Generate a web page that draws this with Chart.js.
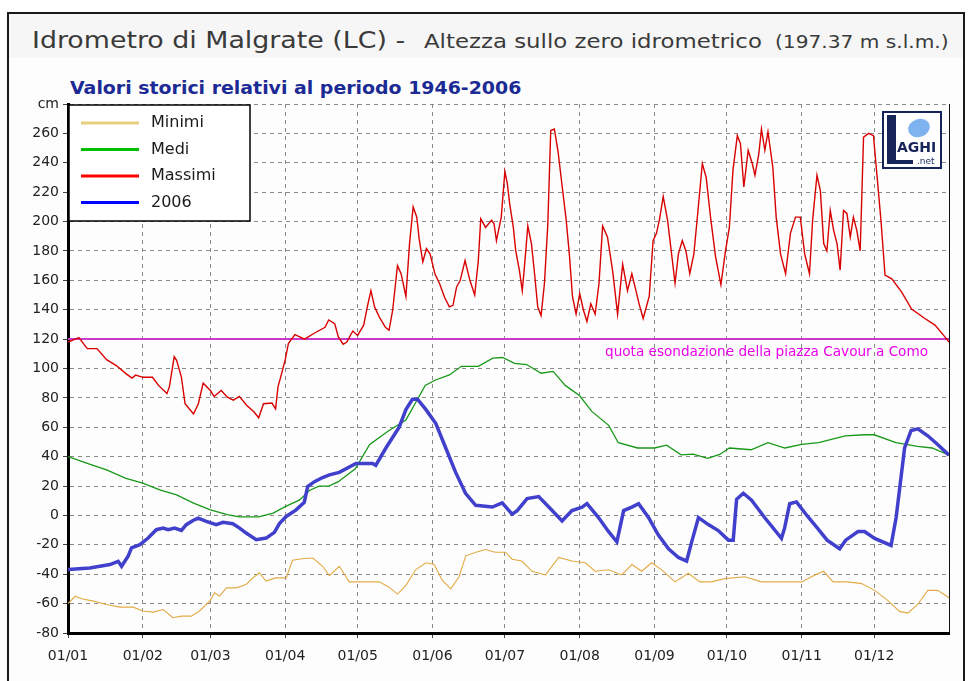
<!DOCTYPE html>
<html>
<head>
<meta charset="utf-8">
<script src="https://cdn.jsdelivr.net/npm/chart.js@4.4.1/dist/chart.umd.min.js"></script>
<style>
  html, body { margin: 0; padding: 0; background: #fff; }
  #wrap { position: relative; width: 971px; height: 681px; overflow: hidden; background: #fff; }
  #frame { position: absolute; left: 7px; top: 12px; width: 958px; height: 700px; border: 2px solid #1a1a1a; box-sizing: border-box; background: #fdfdfd; }
  #band { position: absolute; left: 9px; top: 14px; width: 954px; height: 44px; background: #f6f6f6; }
  .txt { position: absolute; font-family: "DejaVu Sans", sans-serif; white-space: nowrap; line-height: normal; transform-origin: 0 0; }
  .tt { color: #3a3a3a; }
  #t1 { left: 32px; top: 27px; font-size: 23px; }
  #t2 { left: 424px; top: 29px; font-size: 20px; }
  #t3 { left: 775px; top: 32px; font-size: 17px; }
  #sub { left: 70px; top: 78px; font-size: 17px; font-weight: bold; color: #1b2a94; }
  canvas { position: absolute; left: 0; top: 0; }
</style>
</head>
<body>
<div id="wrap">
  <div id="frame"></div>
  <div id="band"></div>
  <div id="t1" class="txt tt" data-w="373">Idrometro di Malgrate (LC) -</div>
  <div id="t2" class="txt tt" data-w="338">Altezza sullo zero idrometrico</div>
  <div id="t3" class="txt tt" data-w="173">(197.37 m s.l.m.)</div>
  <div id="sub" class="txt" data-w="452">Valori storici relativi al periodo 1946-2006</div>
  <canvas id="chart" width="971" height="681"></canvas>
</div>
<script>
// giorno dell'anno (0 = 1 gennaio) e valori in cm
const monthDays = [0, 31, 59, 90, 120, 151, 181, 212, 243, 273, 304, 334];
const monthLabels = ['01/01', '01/02', '01/03', '01/04', '01/05', '01/06', '01/07', '01/08', '01/09', '01/10', '01/11', '01/12'];

const maxDays = [0, 4.5, 8, 12, 16, 20, 24, 26.5, 28, 31, 35, 37.5, 41, 42, 44, 45, 47, 48.5, 52, 54, 56, 59, 60.5, 63.5, 66, 68.5, 71, 74, 77, 79, 81, 84.5, 86, 87, 88.5, 90,
  91.3, 94, 96, 98, 102, 106.5, 108, 110.5, 112, 114, 115.5, 118, 120, 122.5, 124, 125.5, 127, 129, 131.5, 133, 134.5, 136.5, 138, 140, 141.5, 143, 144.5, 145.5, 147, 148.5, 150,
  152, 154, 156, 158, 159.5, 161, 162.5, 164.5, 166.5, 168.5, 170, 171, 173, 175.5, 176.5, 177.5, 179.5, 181, 182, 183, 184.5, 185.5, 187, 188.2, 189.1, 190.5, 192, 193.3,
  194.6, 196, 197.4, 198.8, 200, 201.5, 203, 204.3, 206.4, 207.7, 209, 210.5, 212, 213.5, 215, 216.6, 218.4, 220, 221.5, 223.5, 225.6, 227.7, 229.8, 231.8, 233.6, 235.3,
  236.6, 238.3, 240.8, 242.4, 243.8, 245, 246.6, 248.4, 249.7, 251.5, 252.9, 254.5, 256, 257.6, 259.3, 261, 262.8, 264.4, 266.2, 268.3, 270.5, 272.4, 274, 275.5, 277.3,
  278.6, 280, 281.8, 283.5, 284.6, 286.2, 287.3, 288.7, 290, 292, 293.4, 295.2, 297.3, 299.3, 301.4, 303.4, 305.2, 307.2, 308.5, 310.3, 311.7, 313.1, 314.4, 315.8, 317.2,
  318.6, 319.9, 321.3, 322.7, 324.1, 325.4, 326.8, 328.2, 329.6, 331.7, 333.7, 335.1, 336.8, 338.5, 341.3, 345.4, 349.5, 355, 359.2, 363.3, 365];
const maxVals = [118, 121, 113.5, 113.5, 106, 102, 96.5, 93.5, 95.5, 94, 94, 88.5, 83, 87.5, 108, 105.5, 94, 76, 69, 76, 90, 85, 81, 85, 80.5, 78.5, 81, 75, 70.5, 66.5, 76, 76.5, 72.5, 87.5, 96.5, 106,
  117, 123, 121.5, 120, 124, 128, 133, 130.5, 121.5, 116.5, 118, 125.5, 122.5, 129.5, 142, 153, 142, 135, 128, 126, 139.5, 170, 164.5, 149, 185, 210, 203, 188, 172.5, 181.5, 178,
  164.5, 157.5, 148.5, 142, 143, 155.5, 160, 173.5, 160, 150, 173.5, 202, 196, 201, 198.5, 187, 203, 234, 226, 212, 196, 180, 167, 153, 169, 197, 185, 164.5,
  142, 136, 158, 198.5, 262, 263, 248, 230, 201, 178, 149, 137, 151, 140, 132, 144, 137, 158, 197, 189.5, 167, 137, 171, 153, 164.5, 153,
  144, 134, 149, 187, 192, 201, 217, 201, 183, 158, 178, 187, 180, 164.5, 178, 207.5, 239.5, 230, 203, 176, 157, 180, 196, 235, 258.5,
  253, 223.5, 248.5, 239.5, 231.5, 246, 263, 248.5, 261, 237, 203, 178, 164.5, 192, 203, 203, 178, 164.5, 201, 231.5, 221, 185, 180, 207.5, 194,
  185, 167, 207.5, 205.5, 189.5, 203, 194, 180, 257.5, 260, 258.5, 232.5, 201, 163.5, 161, 152, 140.5, 134, 129.5, 121.5, 118];

const medDays = [0, 8, 16, 24, 31, 38, 45, 52, 59, 66, 71, 79, 85, 90, 96, 100, 104, 108, 112, 119, 125, 133, 140, 144, 148, 152, 158, 163, 170, 176, 180, 185, 190, 196,
  201, 206, 212, 217, 224, 228, 236, 243, 248, 254, 259, 265, 270, 274, 283, 290, 297, 304, 311, 322, 330, 334, 343, 352, 358, 365];
const medVals = [40, 35.5, 31, 25.3, 22, 17.4, 14, 8.4, 3.8, 0.5, -1, -1, 1.6, 6, 10.6, 17, 20, 20, 23, 31.7, 48.3, 57.8, 65, 76.7, 88.5, 92, 95.6, 101.5, 101.5, 107, 107.5, 103.5, 102.7, 96.8,
  98, 88.5, 81.4, 70.8, 61.3, 49.5, 45.9, 45.9, 47.8, 41.2, 41.7, 38.8, 41.5, 45.9, 44.7, 49.5, 45.9, 48.3, 49.5, 54.2, 54.9, 54.9, 49.5, 47, 45.9, 41];

const minDays = [0, 3, 5.6, 10.5, 16, 21.5, 27, 31, 35.3, 39.4, 43.5, 47, 51, 54.5, 58.7, 60.7, 62.8, 65.6, 69.7, 73.8, 76.6, 79.3, 82, 86, 90.4, 93, 97, 101.4, 105.5, 108.3,
  112.4, 116.5, 122, 129, 133, 136.5, 140, 144, 148.3, 151.7, 155, 158.6, 162, 164.8, 169, 173, 177, 181.3, 184, 188, 192.3, 197.8, 203.3, 208.8, 214.3, 218.4, 224, 229.4,
  233.6, 237.7, 241.8, 246, 251.5, 257, 261.8, 266.6, 272, 280.4, 287.3, 297, 304, 308, 313, 317, 323, 328.8, 334.2, 339.7, 344.5, 348, 352, 356.2, 360.3, 365];
const minVals = [-60, -55, -56.7, -58.3, -60.6, -62.4, -62.4, -65, -65.8, -64, -69.6, -68.5, -68.5, -65, -58.3, -52.7, -55, -49.3, -49.3, -47, -42.5, -39, -44.7, -42.5, -42.5, -30.5, -29.5, -29, -34.6, -41,
  -34.6, -45.2, -45.2, -45.2, -48.8, -53.5, -47.6, -37, -32.2, -33.4, -44, -50, -41.7, -27.5, -25, -23.2, -25, -25, -29.8, -31, -38, -40.5, -28.6, -31, -32.2, -38, -37, -40.5,
  -33.4, -38, -32.2, -37, -45.2, -39.3, -45.2, -45.2, -43, -41.7, -45.2, -45.2, -45.2, -41.7, -38, -45.2, -45.2, -46.4, -51, -58, -65.3, -66.5, -60.6, -51, -51, -56];

const y2006Days = [0, 9, 17.4, 20.8, 22.2, 24.9, 26.3, 29.8, 33.2, 36.6, 39.4, 41.5, 44.2, 47, 49, 51.8, 53.9, 57.3, 61.4, 64.2, 68.3, 71.1, 73.8, 78, 82.1, 85.5, 87.6, 90.4,
  94.5, 97.9, 99.3, 102.1, 105.5, 108.3, 112.4, 119.3, 126.2, 127.5, 131.7, 137.2, 140, 142.7, 144.8, 148.3, 152.4, 156.5, 160.6, 164.7, 168.9, 175.8, 179.9, 184, 186.1,
  190.2, 195, 199.2, 204.7, 208.8, 213, 215, 219.8, 223.9, 227.4, 230.2, 233.6, 236.4, 240.5, 244.6, 248.8, 252.9, 256.3, 258.4, 261.2, 265.3, 269.4, 273.6, 275.6, 277,
  279.8, 283.2, 288.6, 295.6, 296.9, 299, 301.8, 306.2, 310.4, 314.5, 319.7, 322.2, 327.3, 330, 334.2, 341, 343.1, 346.6, 349.3, 352.1, 356.2, 360.3, 365];
const y2006Vals = [-36.8, -35.7, -33.4, -31.2, -34.6, -27.8, -22.1, -19.9, -15.4, -9.7, -8.6, -9.7, -8.6, -10.2, -6.3, -3.4, -1.8, -4.1, -6.3, -4.7, -5.6, -8.6, -12, -16.5, -15.4, -11.5, -5.5, -0.7,
  3.8, 9, 19.7, 23, 25.8, 27.6, 29.3, 35.3, 35.3, 34.1, 45.9, 60.1, 72, 79.1, 79.1, 72, 62.5, 45.9, 29.3, 15.1, 6.9, 5.7, 8.5, 0.9, 3.3,
  11.5, 12.8, 5.7, -3.8, 3.3, 5.7, 8, -1.4, -10.9, -18, 3.3, 5.7, 8, -1.4, -13.3, -22.7, -28.6, -31, -18, -1.4, -6.2, -10.3, -16.8, -16.8, 11,
  15.1, 10.4, -1.4, -15.6, -8.5, 8, 9.2, -0.2, -8.5, -16.8, -22.7, -16.8, -10.9, -10.9, -15.6, -20.4, -1.4, 45.9, 57.8, 58.9, 54.2, 48.3, 41];

// quota di esondazione (piazza Cavour a Como)
const floodDays = [0, 365];
const floodVals = [120, 120];
const floodText = 'quota esondazione della piazza Cavour a Como';

const legendOrder = ['Minimi', 'Medi', 'Massimi', '2006'];

const pts = (xs, ys) => xs.map((x, i) => ({ x: x, y: ys[i] }));

// allarga i testi del titolo alla larghezza dell'originale
document.querySelectorAll('.txt').forEach(el => {
    const w = parseFloat(el.dataset.w);
    el.style.transform = 'scaleX(' + (w / el.offsetWidth).toFixed(3) + ')';
});

/* -------- PLUGINS -------- */
const frameLines = {
    id: 'frameLines',
    afterDatasetsDraw(chart) {
        const ctx = chart.ctx, a = chart.chartArea;
        ctx.save();
        ctx.strokeStyle = '#111';
        ctx.lineWidth = 1;
        ctx.beginPath();
        ctx.moveTo(a.right + 0.5, a.top);
        ctx.lineTo(a.right + 0.5, a.bottom);
        ctx.stroke();

        // scritta quota esondazione
        const yPos = chart.scales.y.getPixelForValue(floodVals[0]);
        ctx.font = '13.6px "DejaVu Sans"';
        ctx.fillStyle = '#ea00ea';
        ctx.textAlign = 'right';
        ctx.textBaseline = 'middle';
        ctx.fillText(floodText, a.right - 21, yPos + 13);
        ctx.restore();
    }
};

const legendBox = {
    id: 'legendBox',
    afterDraw(chart) {
        const ctx = chart.ctx, a = chart.chartArea;
        const x0 = a.left + 1, y0 = a.top + 1;
        ctx.save();
        ctx.fillStyle = '#fff';
        ctx.fillRect(x0, y0, 181, 116);
        ctx.strokeStyle = '#000';
        ctx.lineWidth = 1.5;
        ctx.strokeRect(x0, y0, 181, 116);
        ctx.font = '16px "DejaVu Sans"';
        ctx.textBaseline = 'middle';
        legendOrder.forEach((name, i) => {
            const ds = chart.data.datasets.find(d => d.label === name);
            const y = y0 + 18 + i * 26.5;
            ctx.strokeStyle = ds.legendColor;
            ctx.lineWidth = 3;
            ctx.beginPath();
            ctx.moveTo(x0 + 12, y);
            ctx.lineTo(x0 + 70, y);
            ctx.stroke();
            ctx.fillStyle = '#1a1a1a';
            ctx.fillText(name, x0 + 82, y);
        });
        ctx.restore();
    }
};

const logo = {
    id: 'logo',
    afterDraw(chart) {
        const ctx = chart.ctx, a = chart.chartArea;
        const x = a.right - 66, y = a.top + 8, w = 58, h = 56;
        ctx.save();
        ctx.fillStyle = '#fff';
        ctx.fillRect(x, y, w, h);
        ctx.fillStyle = '#7fb3f0';
        ctx.beginPath();
        ctx.ellipse(x + 36, y + 16, 11, 9, -0.3, 0, Math.PI * 2);
        ctx.fill();
        ctx.fillStyle = '#16245a';
        ctx.fillRect(x + 4, y + 3, 9, h - 7);
        ctx.fillRect(x + 4, y + h - 8, 26, 4);
        ctx.font = 'bold 14px "DejaVu Sans"';
        ctx.textBaseline = 'alphabetic';
        ctx.fillText('AGHI', x + 14, y + 40);
        ctx.font = '9px "DejaVu Sans"';
        ctx.fillText('.net', x + 34, y + 52);
        ctx.strokeStyle = '#16245a';
        ctx.lineWidth = 2;
        ctx.strokeRect(x, y, w, h);
        ctx.restore();
    }
};

/* -------- CHART -------- */
const tickFont = { family: 'DejaVu Sans', size: 14 };

new Chart(document.getElementById('chart'), {
    type: 'line',
    data: {
        datasets: [
            {
                label: '2006', data: pts(y2006Days, y2006Vals),
                borderColor: '#4040cc', legendColor: '#0000ff', borderWidth: 3.5, order: 0
            },
            {
                label: 'Massimi', data: pts(maxDays, maxVals),
                borderColor: '#d80000', legendColor: '#ff0000', borderWidth: 1.4, order: 1
            },
            {
                label: 'Medi', data: pts(medDays, medVals),
                borderColor: '#189818', legendColor: '#00c000', borderWidth: 1.3, order: 2
            },
            {
                label: 'Minimi', data: pts(minDays, minVals),
                borderColor: '#e2aa44', legendColor: '#e8cf7c', borderWidth: 1.1, order: 3
            },
            {
                label: 'quota', data: pts(floodDays, floodVals),
                borderColor: '#cc38cc', borderWidth: 2, order: 4
            }
        ]
    },
    options: {
        responsive: false,
        animation: false,
        events: [],
        elements: { point: { radius: 0 }, line: { tension: 0 } },
        layout: { padding: { top: 104, left: 0, right: 22, bottom: 0 } },
        plugins: { legend: { display: false }, tooltip: { enabled: false } },
        scales: {
            x: {
                type: 'linear', min: 0, max: 365,
                afterBuildTicks: scale => { scale.ticks = monthDays.map(v => ({ value: v })); },
                afterFit: scale => { scale.height = 48; },
                ticks: {
                    autoSkip: false, maxRotation: 0, padding: 10,
                    color: '#222', font: tickFont,
                    callback: (v, i) => monthLabels[i]
                },
                grid: { color: '#8a8a8a', lineWidth: 1, tickLength: 5, tickColor: '#444', tickBorderDash: [] },
                border: { color: '#000', width: 3, dash: [4, 4] }
            },
            y: {
                min: -80, max: 280,
                afterFit: scale => { scale.width = 68; },
                ticks: {
                    stepSize: 20, padding: 4,
                    color: '#222', font: tickFont,
                    callback: v => v === 280 ? 'cm' : v
                },
                grid: { color: '#8a8a8a', lineWidth: 1, tickLength: 5, tickColor: '#444', tickBorderDash: [] },
                border: { color: '#000', width: 3, dash: [4, 4] }
            }
        }
    },
    plugins: [frameLines, legendBox, logo]
});
</script>
</body>
</html>
